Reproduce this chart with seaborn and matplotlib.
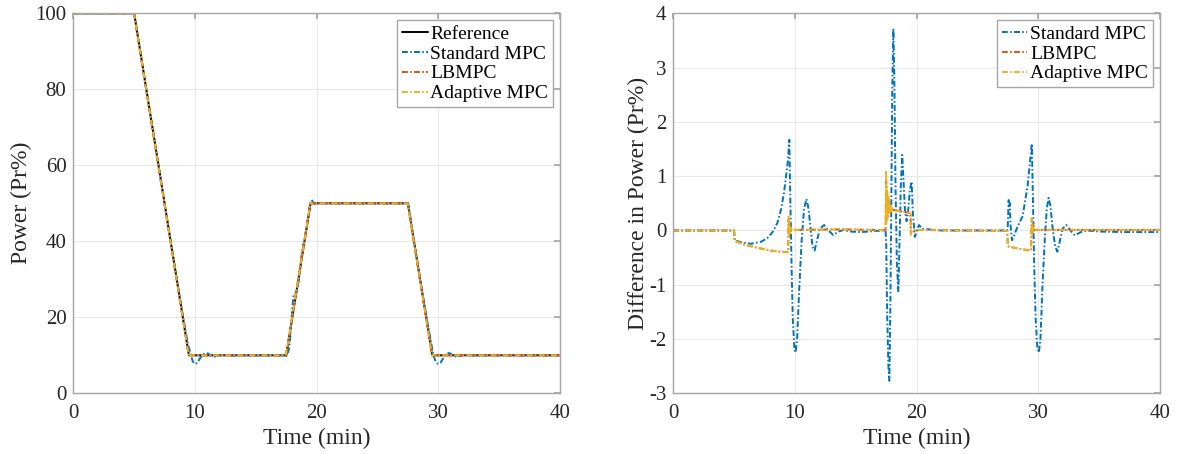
import numpy as np
import pandas as pd
import matplotlib
matplotlib.use("Agg")
import matplotlib.pyplot as plt
import seaborn as sns

# ---------------------------------------------------------------- data
# Reference power trajectory (breakpoints, min / %Pr)
t_ref = [0.0, 5.0, 9.5, 17.5, 19.5, 27.5, 29.5, 40.0]
p_ref = [100.0, 100.0, 10.0, 10.0, 50.0, 50.0, 10.0, 10.0]

# Standard MPC: deviation from the reference (output - reference)
t_std = [0.0, 5.0, 5.05, 5.6, 6.4, 7.2, 7.74, 8.2, 8.56, 8.85, 9.1, 9.3, 9.43, 9.54,
         9.62, 9.72, 9.82, 9.95, 10.05, 10.18, 10.35, 10.55, 10.75, 10.95, 11.12,
         11.3, 11.45, 11.62, 11.8, 12.05, 12.4, 12.75, 13.15, 13.6, 14.0, 14.5, 15.5,
         16.5, 17.45, 17.5, 17.58, 17.68, 17.76, 17.84, 17.92, 18.0, 18.09, 18.17,
         18.27, 18.38, 18.5, 18.6, 18.7, 18.82, 18.93, 19.05, 19.18, 19.3, 19.45,
         19.59, 19.7, 19.86, 20.0, 20.2, 20.45, 21.0, 22.0, 27.45, 27.5, 27.57, 27.62,
         27.66, 27.72, 27.84, 28.0, 28.3, 28.71, 29.12, 29.31, 29.47, 29.56, 29.66,
         29.78, 29.92, 30.05, 30.18, 30.35, 30.55, 30.7, 30.85, 31.0, 31.2, 31.4,
         31.57, 31.75, 32.0, 32.3, 32.65, 33.0, 33.5, 34.0, 35.0, 37.0, 40.0]
d_std = [0.0, 0.0, -0.18, -0.22, -0.245, -0.21, -0.14, -0.02, 0.14, 0.38, 0.69, 1.05,
         1.3, 1.67, 0.6, -0.6, -1.6, -2.15, -2.25, -2.0, -1.1, -0.2, 0.4, 0.58, 0.4,
         0.0, -0.3, -0.37, -0.2, 0.03, 0.1, 0.0, -0.085, -0.02, 0.01, -0.02, -0.03,
         -0.01, 0.0, -0.2, -1.5, -2.5, -2.77, -1.5, 0.5, 2.6, 3.72, 2.8, 0.8, -0.6,
         -1.12, -0.2, 0.8, 1.39, 0.9, 0.35, 0.17, 0.35, 0.75, 0.9, 0.3, -0.12, -0.02,
         0.1, 0.03, 0.02, 0.0, 0.0, 0.1, 0.56, 0.42, 0.5, 0.1, -0.18, -0.1, 0.07, 0.26,
         0.81, 1.24, 1.6, 0.6, -0.6, -1.6, -2.15, -2.25, -2.0, -1.0, -0.1, 0.4, 0.6,
         0.45, 0.0, -0.3, -0.39, -0.22, 0.03, 0.1, 0.0, -0.09, -0.03, 0.0, -0.02,
         -0.03, -0.03]

# LBMPC and adaptive MPC deviations (shared sample times)
t_lb_ad = [0.0, 5.0, 5.04, 5.5, 5.83, 6.93, 8.01, 9.0, 9.45, 9.48, 9.51, 9.54, 9.57,
           9.6, 9.64, 9.68, 9.75, 10.5, 12.0, 14.0, 16.0, 17.45, 17.5, 17.53, 17.56,
           17.59, 17.62, 17.65, 17.68, 17.72, 17.76, 17.8, 17.84, 17.88, 17.93, 17.98,
           18.05, 19.5, 19.53, 19.6, 20.0, 27.45, 27.5, 27.6, 28.5, 29.4, 29.47, 29.5,
           29.53, 29.56, 29.6, 29.65, 29.75, 40.0]
d_lb = [0.0, 0.0, -0.19, -0.23, -0.26, -0.32, -0.37, -0.395, -0.4, 0.2, -0.1, 0.12,
        -0.05, 0.06, -0.02, 0.03, 0.01, 0.01, 0.015, 0.02, 0.01, 0.01, 0.9, 0.2, 0.7,
        0.25, 0.62, 0.28, 0.55, 0.32, 0.5, 0.34, 0.45, 0.36, 0.41, 0.38, 0.38, 0.32,
        -0.06, 0.0, 0.01, -0.01, -0.28, -0.3, -0.34, -0.37, 0.2, -0.06, 0.1, -0.02,
        0.04, 0.0, 0.01, 0.01]
d_ad = [0.0, 0.0, -0.19, -0.23, -0.26, -0.32, -0.37, -0.395, -0.4, 0.26, -0.12, 0.15,
        -0.06, 0.08, -0.02, 0.04, 0.01, 0.01, 0.015, 0.02, 0.01, 0.01, 1.1, 0.15, 0.8,
        0.2, 0.7, 0.25, 0.6, 0.3, 0.55, 0.32, 0.48, 0.35, 0.43, 0.37, 0.38, 0.32,
        -0.08, 0.0, 0.01, -0.01, -0.29, -0.3, -0.34, -0.38, 0.23, -0.08, 0.12, -0.03,
        0.05, 0.0, 0.01, 0.01]

labels = ["Standard MPC", "LBMPC", "Adaptive MPC"]
colors = ["#0072BD", "#D95319", "#EDB120"]

# ---------------------------------------------------------------- style
sns.set_theme(style="white")
plt.rcParams["font.family"] = ["Liberation Serif", "DejaVu Serif"]
plt.rcParams["axes.unicode_minus"] = False

spine_c = "#a6a6a6"
grid_c = "#e8e8e8"
text_c = "#262626"
dashdot = (0, (3.0, 1.2, 0.8, 1.2))

fig = plt.figure(figsize=(11.77, 4.54), dpi=100)
ax1 = fig.add_axes([0.0623, 0.1337, 0.4135, 0.8370])
ax2 = fig.add_axes([0.5720, 0.1337, 0.4135, 0.8370])

# output power of each controller = reference + deviation
series = [(np.array(t_std), np.array(d_std)),
          (np.array(t_lb_ad), np.array(d_lb)),
          (np.array(t_lb_ad), np.array(d_ad))]

lw = 1.4
# left: absolute power
sns.lineplot(x=t_ref, y=p_ref, ax=ax1, color="black", lw=lw, label="Reference",
             sort=False, estimator=None)
for (t, d), lab, c in zip(series, labels, colors):
    p = np.interp(t, t_ref, p_ref) + d
    sns.lineplot(x=t, y=p, ax=ax1, color=c, lw=lw, linestyle=dashdot, label=lab,
                 sort=False, estimator=None)

# right: deviation from reference
for (t, d), lab, c in zip(series, labels, colors):
    sns.lineplot(x=t, y=d, ax=ax2, color=c, lw=lw, linestyle=dashdot, label=lab,
                 sort=False, estimator=None)

ax1.set_xlim(0, 40)
ax1.set_ylim(0, 100)
ax1.set_xticks([0, 10, 20, 30, 40])
ax1.set_yticks([0, 20, 40, 60, 80, 100])
ax1.set_ylabel("Power (Pr%)", fontsize=17, color=text_c, labelpad=2)

ax2.set_xlim(0, 40)
ax2.set_ylim(-3, 4)
ax2.set_xticks([0, 10, 20, 30, 40])
ax2.set_yticks([-3, -2, -1, 0, 1, 2, 3, 4])
ax2.set_ylabel("Difference in Power (Pr%)", fontsize=17, color=text_c, labelpad=0)

for ax in (ax1, ax2):
    ax.set_xlabel("Time (min)", fontsize=17, color=text_c, labelpad=3)
    ax.grid(True, color=grid_c, lw=0.8)
    ax.set_axisbelow(True)
    for s in ax.spines.values():
        s.set_visible(True)
        s.set_color(spine_c)
        s.set_linewidth(1.0)
    ax.tick_params(axis="both", which="major", direction="in", length=4,
                   color=spine_c, labelsize=15, labelcolor=text_c,
                   top=True, right=True, pad=5)
    ax.tick_params(axis="x", pad=8)
    leg = ax.legend(loc="upper right", fontsize=14, frameon=True, fancybox=False,
                    framealpha=1.0, edgecolor=spine_c, handlelength=1.3,
                    handletextpad=0.15, labelspacing=0.12, borderpad=0.25,
                    borderaxespad=0.35)
    leg.get_frame().set_linewidth(1.0)
    for txt in leg.get_texts():
        txt.set_color("black")

fig.savefig("out.png", dpi=100)
